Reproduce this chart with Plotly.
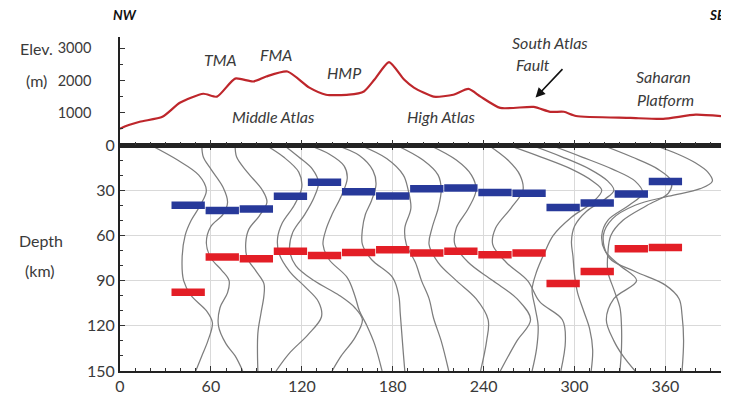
import plotly.graph_objects as go

# ---------------- data ----------------
# elevation profile (top panel)
dist_km = [0, 1, 13, 28, 39.5, 55, 64, 76, 88, 96.5, 110.5, 125, 136, 151, 161, 168, 177.6,
           187.5, 194, 207, 220, 230, 238, 251, 273, 284, 293, 301, 337, 358.5, 380, 400]
elev_m = [500, 530, 720, 875, 1310, 1590, 1500, 2060, 1970, 2125, 2280, 1780, 1560, 1560, 1660,
          2030, 2570, 2030, 1780, 1500, 1560, 1740, 1500, 1150, 1180, 1030, 1030, 900, 840, 810,
          940, 880]

# bin centres and interface depths (bottom panel)
bin_centres = [45, 67.5, 90, 112.5, 135, 157.5, 180, 202.5, 225, 247.5, 270, 292.5, 315, 337.5, 360]
bin_half_width = 11
moho_depth = [40, 43.5, 42.4, 34, 24.7, 31, 33.8, 29, 28.6, 31.6, 32, 41.5, 38.5, 32.6, 24.3]
lab_depth = [97.8, 74.4, 75.5, 70.6, 73.3, 71.3, 69.5, 71.7, 70.6, 72.8, 71.7, 92, 83.9, 68.9, 68]

# wiggle profiles (depth, x)
profile_depths = [
    [0, 10, 20, 30, 40, 50, 60, 75, 90, 100, 110, 118, 130, 140, 150],
    [0, 8, 16, 28, 38, 46, 54, 65, 75, 83, 90, 98, 108, 120, 132, 140, 150],
    [0, 8, 18, 30, 38, 47, 56, 65, 75, 84, 92, 100, 112, 125, 150],
    [0, 8, 18, 28, 40, 52, 62, 72, 84, 94, 104, 114, 126, 138, 150],
    [0, 8, 16, 25, 35, 46, 58, 70, 80, 90, 100, 108, 116, 128, 140, 150],
    [0, 6, 14, 22, 34, 46, 56, 66, 76, 88, 100, 110, 120, 132, 150],
    [0, 7, 17, 26, 37, 46, 56, 66, 76, 88, 100, 112, 125, 138, 150],
    [0, 9, 20, 29, 42, 55, 66, 78, 90, 102, 115, 130, 150],
    [0, 10, 20, 30, 42, 55, 66, 78, 90, 102, 116, 130, 150],
    [0, 10, 20, 30, 42, 55, 66, 78, 90, 102, 116, 130, 150],
    [0, 10, 20, 30, 42, 55, 66, 78, 90, 104, 116, 130, 150],
    [0, 8, 16, 24, 30, 38, 48, 60, 72, 84, 96, 108, 120, 135, 150],
    [0, 8, 16, 24, 30, 36, 44, 54, 64, 74, 86, 98, 110, 122, 136, 150],
    [0, 8, 16, 24, 32, 40, 50, 60, 70, 80, 90, 102, 116, 130, 140, 150],
    [0, 8, 16, 24, 32, 40, 50, 60, 72, 84, 96, 108, 120, 135, 150],
    [0, 6, 12, 18, 24, 29, 34, 40, 49, 60, 75, 84, 93, 102, 113, 130, 150],
]
profile_x = [
    [20, 38, 52, 57, 53, 47, 43, 41, 42, 47, 57, 61, 58, 54, 50],
    [54, 55, 60, 68, 71, 68, 60, 57, 60, 67, 72, 71, 66, 65, 70, 76, 81],
    [76, 77, 84, 94, 97, 92, 85, 83, 84, 90, 95, 95, 93, 91, 91],
    [96, 108, 118, 120, 115, 107, 104, 105, 112, 122, 131, 133, 124, 112, 103],
    [108, 118, 127, 131, 128, 122, 114, 112, 116, 128, 145, 155, 160, 155, 146, 140],
    [124, 138, 148, 150, 146, 140, 136, 134, 138, 150, 155, 158, 163, 168, 173],
    [142, 158, 167, 169, 166, 162, 160, 160, 166, 180, 184, 185, 186, 187, 188],
    [158, 176, 187, 190, 192, 188, 189, 195, 199, 204, 207, 212, 217],
    [182, 200, 210, 212, 210, 206, 204, 210, 222, 235, 243, 242, 238],
    [204, 222, 232, 235, 230, 222, 221, 230, 246, 262, 271, 262, 251],
    [243, 256, 264, 266, 258, 248, 246, 255, 269, 277, 292, 294, 291],
    [256, 278, 298, 312, 318, 312, 298, 286, 280, 275, 272, 274, 276, 275, 272],
    [271, 292, 310, 322, 326, 320, 308, 300, 298, 299, 300, 302, 306, 310, 312, 311],
    [284, 305, 325, 340, 345, 336, 322, 318, 320, 330, 341, 326, 321, 326, 332, 340],
    [318, 338, 355, 364, 362, 348, 332, 324, 322, 322, 326, 330, 331, 331, 330],
    [352, 368, 380, 388, 391, 383, 362, 340, 325, 319, 323, 340, 360, 369, 371, 372, 371],
]

x_ticks = [0, 60, 120, 180, 240, 300, 360]
depth_ticks = [0, 30, 60, 90, 120, 150]
elev_ticks = [1000, 2000, 3000]

# ---------------- figure ----------------
FONT = "Lato"
TXT = "#3a3a3a"
fig = go.Figure()

for d, xs in zip(profile_depths, profile_x):
    fig.add_trace(go.Scatter(x=xs, y=d, mode="lines", xaxis="x", yaxis="y",
                             line=dict(color="#7d7d7d", width=1.25, shape="spline", smoothing=1.0),
                             hoverinfo="skip", showlegend=False))

def seg(centres, depths):
    xs, ys = [], []
    for c, dd in zip(centres, depths):
        xs += [c - bin_half_width, c + bin_half_width, None]
        ys += [dd, dd, None]
    return xs, ys

bx, by = seg(bin_centres, moho_depth)
fig.add_trace(go.Scatter(x=bx, y=by, mode="lines", line=dict(color="#27399a", width=7.5),
                         xaxis="x", yaxis="y", showlegend=False))
rx, ry = seg(bin_centres, lab_depth)
fig.add_trace(go.Scatter(x=rx, y=ry, mode="lines", line=dict(color="#e31e26", width=7.5),
                         xaxis="x", yaxis="y", showlegend=False))

fig.add_trace(go.Scatter(x=dist_km, y=elev_m, mode="lines", xaxis="x2", yaxis="y2",
                         line=dict(color="#be262b", width=2.2, shape="spline", smoothing=0.6),
                         showlegend=False))

split = 226 / 334
common_x = dict(range=[0, 400], tickvals=x_ticks, ticks="inside", ticklen=5, tickwidth=1.2,
                tickcolor="#333", minor=dict(ticks="inside", ticklen=3, dtick=10, tick0=0,
                                             tickcolor="#333", showgrid=False),
                showline=True, linecolor="#222", zeroline=False)
fig.update_layout(
    width=721, height=392,
    margin=dict(l=112, r=1, t=29, b=29),
    paper_bgcolor="white", plot_bgcolor="white",
    font=dict(family=FONT, color=TXT, size=15),
    xaxis=dict(**common_x, domain=[0, 1], anchor="y", linewidth=2, mirror="ticks",
               showgrid=True, gridcolor="#d9d9d9", gridwidth=1,
               tickfont=dict(size=16, color=TXT)),
    yaxis=dict(domain=[0, split], anchor="x", range=[150, 0], tickvals=depth_ticks,
               ticks="inside", ticklen=5, tickwidth=1.2, tickcolor="#333",
               minor=dict(ticks="inside", ticklen=3, dtick=10, tick0=0, tickcolor="#333",
                          showgrid=False),
               showline=True, linecolor="#222", linewidth=2, mirror="ticks", zeroline=False,
               showgrid=True, gridcolor="#d9d9d9", gridwidth=1,
               tickfont=dict(size=16, color=TXT)),
    xaxis2=dict(**common_x, domain=[0, 1], anchor="y2", linewidth=2.5, showgrid=False,
                showticklabels=False, matches="x"),
    yaxis2=dict(domain=[split, 1], anchor="x2", range=[0, 3350], tickvals=elev_ticks,
                ticks="inside", ticklen=5, tickwidth=1.2, tickcolor="#333",
                minor=dict(ticks="inside", ticklen=3, dtick=500, tick0=0, tickcolor="#333"),
                showline=True, linecolor="#222", linewidth=1.5, mirror="ticks",
                zeroline=False, showgrid=False, ticklabelstandoff=24,
                tickfont=dict(size=14.5, color=TXT)),
)

ann = []
def A(text, x, y, xref="x2", yref="y2", size=16, italic=True, bold=False, xanchor="center", color=TXT):
    t = text
    if bold:
        t = "<b>" + t + "</b>"
    if italic:
        t = "<i>" + t + "</i>"
    ann.append(dict(text=t, x=x, y=y, xref=xref, yref=yref, showarrow=False,
                    xanchor=xanchor, yanchor="middle", font=dict(size=size, color=color, family=FONT)))

A("TMA", 66.4, 2656)
A("FMA", 103, 2810)
A("HMP", 148, 2250)
A("Middle Atlas", 101, 875)
A("High Atlas", 212, 875)
A("South Atlas", 283.5, 3190)
A("Fault", 260, 2500, xanchor="left")
A("Saharan", 359, 2125)
A("Platform", 360, 1400)
A("NW", 0.0082, 1.066, xref="paper", yref="paper", bold=True, color="#111", size=13.5)
A("SE", 0.969, 1.066, xref="paper", yref="paper", bold=True, color="#111", size=13.5, xanchor="left")
A("Elev.", -0.138, 0.967, xref="paper", yref="paper", italic=False)
A("(m)", -0.137, 0.871, xref="paper", yref="paper", italic=False)
A("Depth", -0.130, 0.392, xref="paper", yref="paper", italic=False)
A("(km)", -0.132, 0.302, xref="paper", yref="paper", italic=False)

ann.append(dict(x=274.3, y=1470, ax=293, ay=2400, xref="x2", yref="y2", axref="x2", ayref="y2",
                showarrow=True, arrowhead=2, arrowsize=1.2, arrowwidth=1.6, arrowcolor="#111", text=""))
fig.update_layout(annotations=ann)

fig.write_html("out.html")
